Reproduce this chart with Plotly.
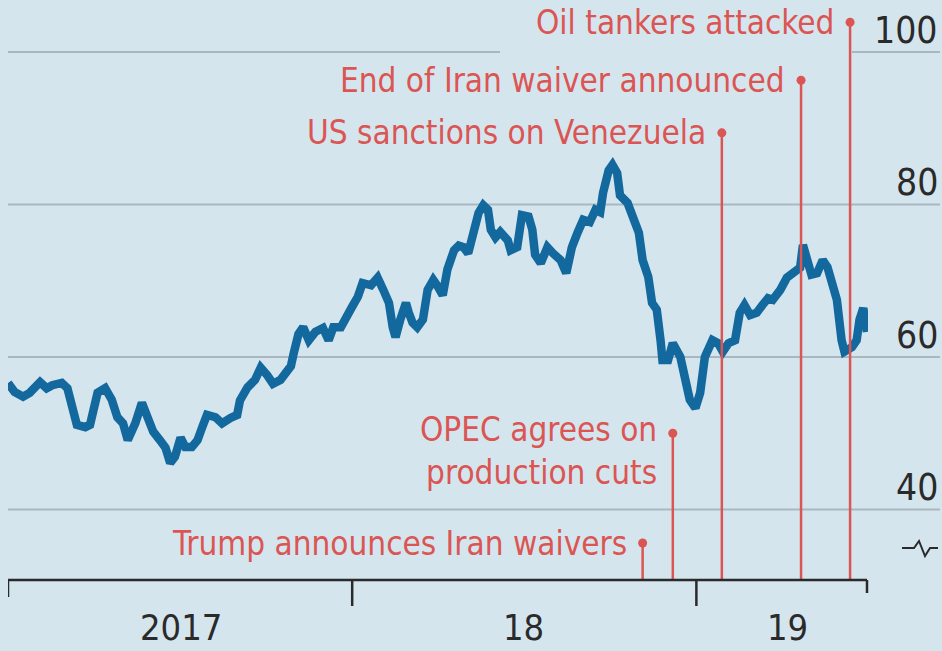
import plotly.graph_objects as go

# Brent crude, $ per barrel (traced series)
dates = [
    "2017-01-01", "2017-01-08", "2017-01-17", "2017-01-24", "2017-02-04", "2017-02-11",
    "2017-02-17", "2017-02-27", "2017-03-05", "2017-03-11", "2017-03-15", "2017-03-24",
    "2017-03-29", "2017-04-06", "2017-04-14", "2017-04-21", "2017-04-27", "2017-05-03",
    "2017-05-08", "2017-05-16", "2017-05-23", "2017-05-29", "2017-06-04", "2017-06-11",
    "2017-06-17", "2017-06-22", "2017-06-27", "2017-07-03", "2017-07-08", "2017-07-15",
    "2017-07-21", "2017-07-26", "2017-07-31", "2017-08-09", "2017-08-16", "2017-08-25",
    "2017-09-01", "2017-09-04", "2017-09-12", "2017-09-20", "2017-09-26", "2017-10-03",
    "2017-10-09", "2017-10-17", "2017-10-22", "2017-10-28", "2017-10-31", "2017-11-05",
    "2017-11-10", "2017-11-16", "2017-11-23", "2017-12-01", "2017-12-07", "2017-12-12",
    "2017-12-20", "2017-12-27",
    "2018-01-01", "2018-01-07", "2018-01-12", "2018-01-21", "2018-01-28", "2018-02-03",
    "2018-02-09", "2018-02-13", "2018-02-16", "2018-02-21", "2018-02-27", "2018-03-02",
    "2018-03-06", "2018-03-11", "2018-03-17", "2018-03-22", "2018-03-28", "2018-04-02",
    "2018-04-07", "2018-04-12", "2018-04-19", "2018-04-24", "2018-04-29", "2018-05-04",
    "2018-05-10", "2018-05-15", "2018-05-20", "2018-05-25", "2018-05-28", "2018-06-02",
    "2018-06-07", "2018-06-15", "2018-06-18", "2018-06-25", "2018-06-30", "2018-07-07",
    "2018-07-11", "2018-07-14", "2018-07-20", "2018-07-27", "2018-08-02", "2018-08-10",
    "2018-08-16", "2018-08-22", "2018-08-28", "2018-09-03", "2018-09-10", "2018-09-16",
    "2018-09-21", "2018-09-24", "2018-09-30", "2018-10-04", "2018-10-09", "2018-10-12",
    "2018-10-20", "2018-10-25", "2018-11-01", "2018-11-05", "2018-11-11", "2018-11-15",
    "2018-11-20", "2018-11-24", "2018-11-26", "2018-12-02", "2018-12-07", "2018-12-15",
    "2018-12-20", "2018-12-25", "2018-12-31",
    "2019-01-05", "2019-01-10", "2019-01-18", "2019-01-24", "2019-01-29", "2019-02-04",
    "2019-02-11", "2019-02-16", "2019-02-21", "2019-02-27", "2019-03-06", "2019-03-12",
    "2019-03-18", "2019-03-23", "2019-03-31", "2019-04-07", "2019-04-13", "2019-04-21",
    "2019-04-24", "2019-04-28", "2019-05-03", "2019-05-09", "2019-05-15", "2019-05-20",
    "2019-05-25", "2019-05-30", "2019-06-04", "2019-06-07", "2019-06-15", "2019-06-20",
    "2019-06-23", "2019-06-27", "2019-07-01",
]
prices = [
    56.6, 55.4, 54.8, 55.3, 56.7, 55.9,
    56.3, 56.6, 55.9, 53.0, 51.1, 50.8,
    51.1, 55.3, 55.9, 54.4, 52.1, 51.3,
    49.1, 51.3, 54.0, 52.1, 50.2, 49.1,
    48.1, 46.1, 46.9, 49.4, 48.2, 48.2,
    49.1, 50.8, 52.4, 52.1, 51.3, 52.0,
    52.4, 54.3, 56.0, 57.0, 58.6, 57.6,
    56.5, 57.0, 57.9, 58.8, 60.5, 63.0,
    63.9, 62.2, 63.3, 63.8, 62.2, 63.9,
    63.9, 65.2,
    66.6, 67.9, 69.7, 69.4, 70.4, 68.8,
    67.1, 63.9, 62.6, 64.9, 67.1, 65.8,
    64.5, 63.9, 64.9, 68.8, 70.1, 69.2,
    68.1, 71.5, 74.0, 74.6, 74.4, 73.6,
    76.7, 78.9, 79.9, 79.3, 76.7, 75.7,
    76.4, 75.3, 74.0, 74.4, 78.6, 78.4,
    76.7, 73.4, 72.3, 74.4, 73.6, 72.7,
    71.0, 74.4, 76.3, 78.0, 77.7, 79.3,
    79.0, 81.5, 84.5, 85.2, 84.1, 81.2,
    80.2, 78.4, 76.3, 72.7, 70.5, 67.1,
    66.2, 62.2, 59.6, 59.6, 61.8, 60.0,
    57.4, 54.4, 53.3,
    55.3, 60.0, 62.2, 61.8, 60.7, 61.8,
    62.2, 65.8, 66.8, 65.5, 65.8, 66.8,
    67.7, 67.5, 68.8, 70.4, 71.1, 71.7,
    74.7, 73.1, 70.8, 71.0, 72.7, 71.8,
    69.2, 67.5, 62.2, 60.7, 61.3, 62.2,
    64.9, 66.4, 63.3,
]

# Events marked on the chart
event_labels = [
    "Trump announces Iran waivers",
    "OPEC agrees on<br>production cuts",
    "US sanctions on Venezuela",
    "End of Iran waiver announced",
    "Oil tankers attacked",
]
event_dates = ["2018-11-05", "2018-12-07", "2019-01-28", "2019-04-22", "2019-06-13"]

# Axis labelling
y_ticks = [40, 60, 80, 100]
year_labels = ["2017", "18", "19"]
year_label_dates = ["2017-07-03", "2018-07-02", "2019-04-08"]
year_tick_dates = ["2017-01-01", "2018-01-01", "2019-01-01"]

# ---- styling / geometry ----
BG = "#d5e5ee"
BLUE = "#13699e"
RED = "#db5553"
GRID = "#a9b7c0"
INK = "#2a2a2a"
FONT = "Liberation Sans Narrow, DejaVu Sans Condensed, Roboto, sans-serif"

W, H = 942, 651
L_PX, R_PX = 8, 868          # plot area in pixels
B_PX = 580                    # baseline
X_RANGE = ["2017-01-01", "2019-07-02"]
Y_RANGE = [30.75, 106.82]
label_levels = [35.6, 50.0, 89.4, 96.3, 103.9]   # height of each event marker
label_yshift = [0, -18, 0, 0, 0]


def px_to_paper_x(px):
    return (px - L_PX) / (R_PX - L_PX)


def px_to_paper_y(py):
    return (B_PX - py) / B_PX


fig = go.Figure()

# price line
fig.add_trace(go.Scatter(
    x=dates, y=prices, mode="lines",
    line=dict(color=BLUE, width=8.5, shape="linear"),
    hoverinfo="skip", showlegend=False,
))

# event stems
stem_x, stem_y = [], []
for d, lv in zip(event_dates, label_levels):
    stem_x += [d, d, None]
    stem_y += [Y_RANGE[0], lv, None]
fig.add_trace(go.Scatter(
    x=stem_x, y=stem_y, mode="lines",
    line=dict(color=RED, width=2.5),
    hoverinfo="skip", showlegend=False,
))
fig.add_trace(go.Scatter(
    x=event_dates, y=label_levels, mode="markers",
    marker=dict(color=RED, size=9),
    hoverinfo="skip", showlegend=False,
))

shapes = []
# horizontal gridlines, running into the right margin
grid_x1 = px_to_paper_x(940)
for v in y_ticks:
    if v == 100:
        segs = [(0, px_to_paper_x(500)), (px_to_paper_x(852), grid_x1)]
    else:
        segs = [(0, grid_x1)]
    for a, b in segs:
        shapes.append(dict(type="line", xref="paper", yref="y", x0=a, x1=b,
                           y0=v, y1=v, line=dict(color=GRID, width=2), layer="below"))

# baseline and ticks
shapes.append(dict(type="line", xref="paper", yref="paper",
                   x0=0, x1=px_to_paper_x(867), y0=0, y1=0,
                   line=dict(color=INK, width=2.5)))
for i, d in enumerate(year_tick_dates):
    ln = 17 if i == 0 else 26
    shapes.append(dict(type="line", xref="x", yref="paper", x0=d, x1=d,
                       y0=0, y1=px_to_paper_y(B_PX + ln),
                       line=dict(color=INK, width=2.5)))
shapes.append(dict(type="line", xref="paper", yref="paper",
                   x0=px_to_paper_x(867), x1=px_to_paper_x(867),
                   y0=0, y1=px_to_paper_y(B_PX + 13),
                   line=dict(color=INK, width=2.5)))

# axis-break glyph on the right
bx = [902, 914, 919, 925, 930, 938]
by = [548, 548, 541, 556, 548, 548]
path = "M " + " L ".join(f"{px_to_paper_x(a):.5f},{px_to_paper_y(b):.5f}" for a, b in zip(bx, by))
shapes.append(dict(type="path", xref="paper", yref="paper", path=path,
                   line=dict(color=INK, width=2)))

annotations = []
# y value labels sitting on their gridlines at right
for v in y_ticks:
    annotations.append(dict(
        text=str(v), xref="paper", yref="y", x=px_to_paper_x(940), y=v,
        xanchor="right", yanchor="bottom", showarrow=False, yshift=-2,
        font=dict(family=FONT, size=37, color=INK),
    ))
# year labels
for t, d in zip(year_labels, year_label_dates):
    annotations.append(dict(
        text=t, xref="x", yref="paper", x=d, y=px_to_paper_y(627),
        xanchor="center", yanchor="middle", showarrow=False,
        font=dict(family=FONT, size=36, color=INK),
    ))
# event labels
for t, d, lv, ys in zip(event_labels, event_dates, label_levels, label_yshift):
    annotations.append(dict(
        text=t, xref="x", yref="y", x=d, y=lv, xshift=-14, yshift=ys,
        xanchor="right", yanchor="middle", align="right", showarrow=False,
        font=dict(family=FONT, size=33, color=RED),
    ))

fig.update_layout(
    width=W, height=H,
    margin=dict(l=L_PX, r=W - R_PX, t=0, b=H - B_PX),
    paper_bgcolor=BG, plot_bgcolor=BG,
    xaxis=dict(type="date", range=X_RANGE, showgrid=False, zeroline=False,
               showticklabels=False, ticks="", showline=False),
    yaxis=dict(range=Y_RANGE, showgrid=False, zeroline=False,
               showticklabels=False, ticks="", showline=False),
    shapes=shapes, annotations=annotations,
    showlegend=False,
)
fig.layout.xaxis.fixedrange = True
fig.layout.yaxis.fixedrange = True

fig.write_html("out.html", config={"displayModeBar": False})
